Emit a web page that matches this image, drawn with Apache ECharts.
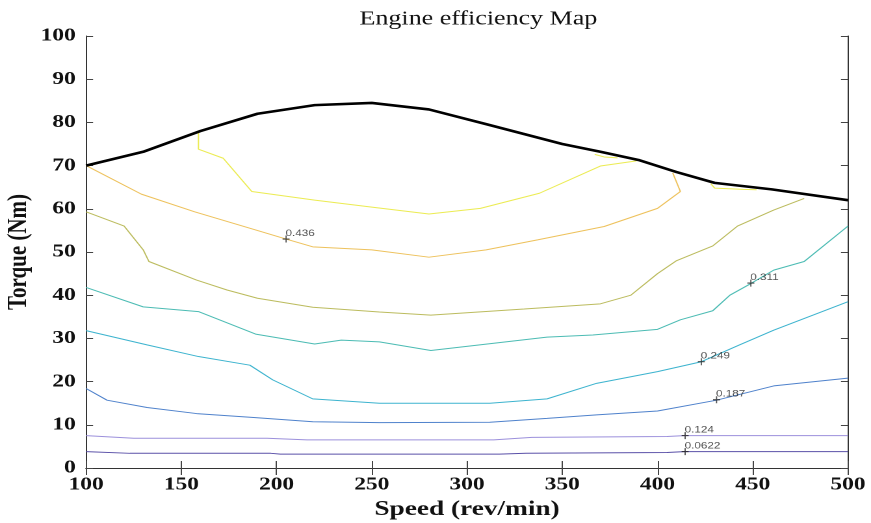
<!DOCTYPE html>
<html>
<head>
<meta charset="utf-8">
<script src="https://cdn.jsdelivr.net/npm/echarts@6/dist/echarts.min.js"></script>
<style>
  html, body { margin: 0; padding: 0; background: #fff; overflow: hidden; }
  #chart { width: 670px; height: 523px; transform: scaleX(1.3); transform-origin: 0 0; }
</style>
</head>
<body>
<div id="chart"></div>
<script>
// Axis ticks
const speedTicks = [100, 150, 200, 250, 300, 350, 400, 450, 500];
const torqueTicks = [0, 10, 20, 30, 40, 50, 60, 70, 80, 90, 100];

// Maximum torque curve [speed, torque]
const maxTorque = [[100,70],[130,73.2],[160,78],[190,82],[220,84],[250,84.5],[280,83],[310,79.6],[350,75],[370,73.2],[390,71.3],[410,68.5],[430,66],[460,64.5],[500,62]];

// Efficiency contour levels [speed, torque]
const eff0622 = [[100,3.8],[123,3.4],[197,3.4],[202,3.2],[317,3.2],[331,3.4],[405,3.6],[414,3.8],[500,3.8]];
const eff124 = [[100,7.5],[125,6.9],[195,6.9],[216,6.5],[314,6.5],[334,7.1],[405,7.3],[414,7.5],[500,7.5]];
const eff187 = [[100,18.4],[111,15.7],[132,14],[158,12.6],[188,11.7],[219,10.7],[254,10.5],[312,10.6],[342,11.5],[368,12.3],[400,13.2],[431,15.7],[461,19],[500,20.8]];
const eff249 = [[100,31.8],[132,28.5],[159,25.8],[186,23.8],[198,20.4],[219,16],[254,15],[312,15],[342,16],[368,19.6],[400,22.3],[423,24.6],[443,28.5],[461,31.9],[500,38.5]];
const eff311 = [[100,41.8],[130,37.3],[159,36.2],[189,31],[220,28.7],[234,29.6],[254,29.2],[281,27.2],[342,30.3],[366,30.8],[400,32.1],[412,34.3],[429,36.4],[438,40],[449,42.7],[461,45.8],[477,47.8],[500,56]];
const eff373 = [[100,59.3],[120,56],[130,50.5],[133,47.8],[158,43.5],[174,41.2],[190,39.3],[219,37.2],[254,36.1],[281,35.4],[330,36.8],[370,38],[386,40],[400,45],[410,48],[429,51.4],[442,56],[461,59.7],[477,62.4]];
const eff436 = [[100,70],[129,63.4],[157,59.3],[189,55.1],[205,53],[219,51.2],[250,50.5],[280,48.8],[310,50.5],[337,52.8],[372,55.9],[400,60.1],[412,64],[408,68.3]];
const eff498 = [[159,78],[159,73.8],[172,71.7],[187,64],[220,62],[250,60.4],[280,58.8],[307,60.1],[338,63.6],[370,69.9],[389,71.1]];
const eff498b = [[367,72.6],[372,72.0],[379,71.8]];
const eff498c = [[428,65.8],[430,64.8],[445,64.5],[452,64.4]];

// Contour label anchors [speed, torque, text]
const contourLabels = [[205,53,'0.436'],[449,42.8,'0.311'],[423,24.6,'0.249'],[431,15.8,'0.187'],[414.5,7.5,'0.124'],[414.5,3.8,'0.0622']];

const levelColors = {
  l0622: '#5a50a8', l124: '#9c90dc', l187: '#4f82cc', l249: '#3db4cf',
  l311: '#4cbcb4', l373: '#bcbc5e', l436: '#eec25c', l498: '#ecec52'
};

function contour(data, color) {
  return {
    type: 'line', data: data, xAxisIndex: 0, yAxisIndex: 0,
    showSymbol: false, symbol: 'none', silent: true, z: 2,
    lineStyle: { color: color, width: 1 }
  };
}

const serif = 'Liberation Serif';
const axisLineStyle = { lineStyle: { color: '#333', width: 1 } };
const tickStyle = { color: '#444', width: 1 };

const chart = echarts.init(document.getElementById('chart'), null, { devicePixelRatio: 2 });
chart.setOption({
  animation: false,
  backgroundColor: '#fff',
  title: {
    text: 'Engine efficiency Map',
    left: 363, top: 4, textAlign: 'center',
    textStyle: { fontFamily: serif, fontWeight: 'normal', fontSize: 20, color: '#111' }
  },
  grid: { left: 66.2, right: 17.7, top: 36, bottom: 55, outerBoundsMode: 'none', containLabel: false },
  xAxis: [{
    type: 'value', position: 'bottom',
    min: speedTicks[0], max: speedTicks[speedTicks.length - 1], interval: 50,
    axisLine: axisLineStyle,
    axisTick: { inside: true, length: 7, lineStyle: tickStyle },
    axisLabel: { margin: 8, fontFamily: serif, fontWeight: 'bold', fontSize: 18, color: '#111', showMinLabel: true, showMaxLabel: true },
    splitLine: { show: false },
    name: 'Speed (rev/min)', nameLocation: 'middle', nameGap: 30,
    nameTextStyle: { fontFamily: serif, fontWeight: 'bold', fontSize: 21, color: '#111' }
  }, {
    type: 'value', position: 'top',
    min: speedTicks[0], max: speedTicks[speedTicks.length - 1], interval: 50,
    axisLine: axisLineStyle,
    axisTick: { inside: true, length: 7, lineStyle: tickStyle },
    axisLabel: { show: false }, splitLine: { show: false }
  }],
  yAxis: [{
    type: 'value', position: 'left',
    min: torqueTicks[0], max: torqueTicks[torqueTicks.length - 1], interval: 10,
    axisLine: axisLineStyle,
    axisTick: { inside: true, length: 5.4, lineStyle: tickStyle },
    axisLabel: { margin: 8, fontFamily: serif, fontWeight: 'bold', fontSize: 18, color: '#111', showMinLabel: true, showMaxLabel: true },
    splitLine: { show: false },
    name: 'Torque (Nm)', nameLocation: 'middle', nameGap: 41, nameMoveOverlap: false,
    nameTextStyle: { fontFamily: serif, fontWeight: 'bold', fontSize: 21, color: '#111' }
  }, {
    type: 'value', position: 'right',
    min: torqueTicks[0], max: torqueTicks[torqueTicks.length - 1], interval: 10,
    axisLine: axisLineStyle,
    axisTick: { inside: true, length: 5.4, lineStyle: tickStyle },
    axisLabel: { show: false }, splitLine: { show: false }
  }],
  series: [
    contour(eff0622, levelColors.l0622),
    contour(eff124, levelColors.l124),
    contour(eff187, levelColors.l187),
    contour(eff249, levelColors.l249),
    contour(eff311, levelColors.l311),
    contour(eff373, levelColors.l373),
    contour(eff436, levelColors.l436),
    contour(eff498, levelColors.l498),
    contour(eff498b, levelColors.l498),
    contour(eff498c, levelColors.l498),
    {
      type: 'line', data: maxTorque, showSymbol: false, symbol: 'none', silent: true, z: 3,
      lineStyle: { color: '#000', width: 2.6 }
    },
    {
      type: 'scatter', z: 4, silent: true,
      data: contourLabels.map(d => ({ value: [d[0], d[1]], name: d[2] })),
      symbol: 'path://M5 0 L5 10 M0 5 L10 5',
      symbolSize: [5.4, 7],
      itemStyle: { color: 'rgba(0,0,0,0)', borderColor: '#222', borderWidth: 1 },
      label: {
        show: true, formatter: p => p.name,
        position: [2.7, -1.5], align: 'left', verticalAlign: 'middle',
        fontFamily: 'Liberation Sans', fontSize: 9, color: '#222'
      }
    }
  ]
});
</script>
</body>
</html>
